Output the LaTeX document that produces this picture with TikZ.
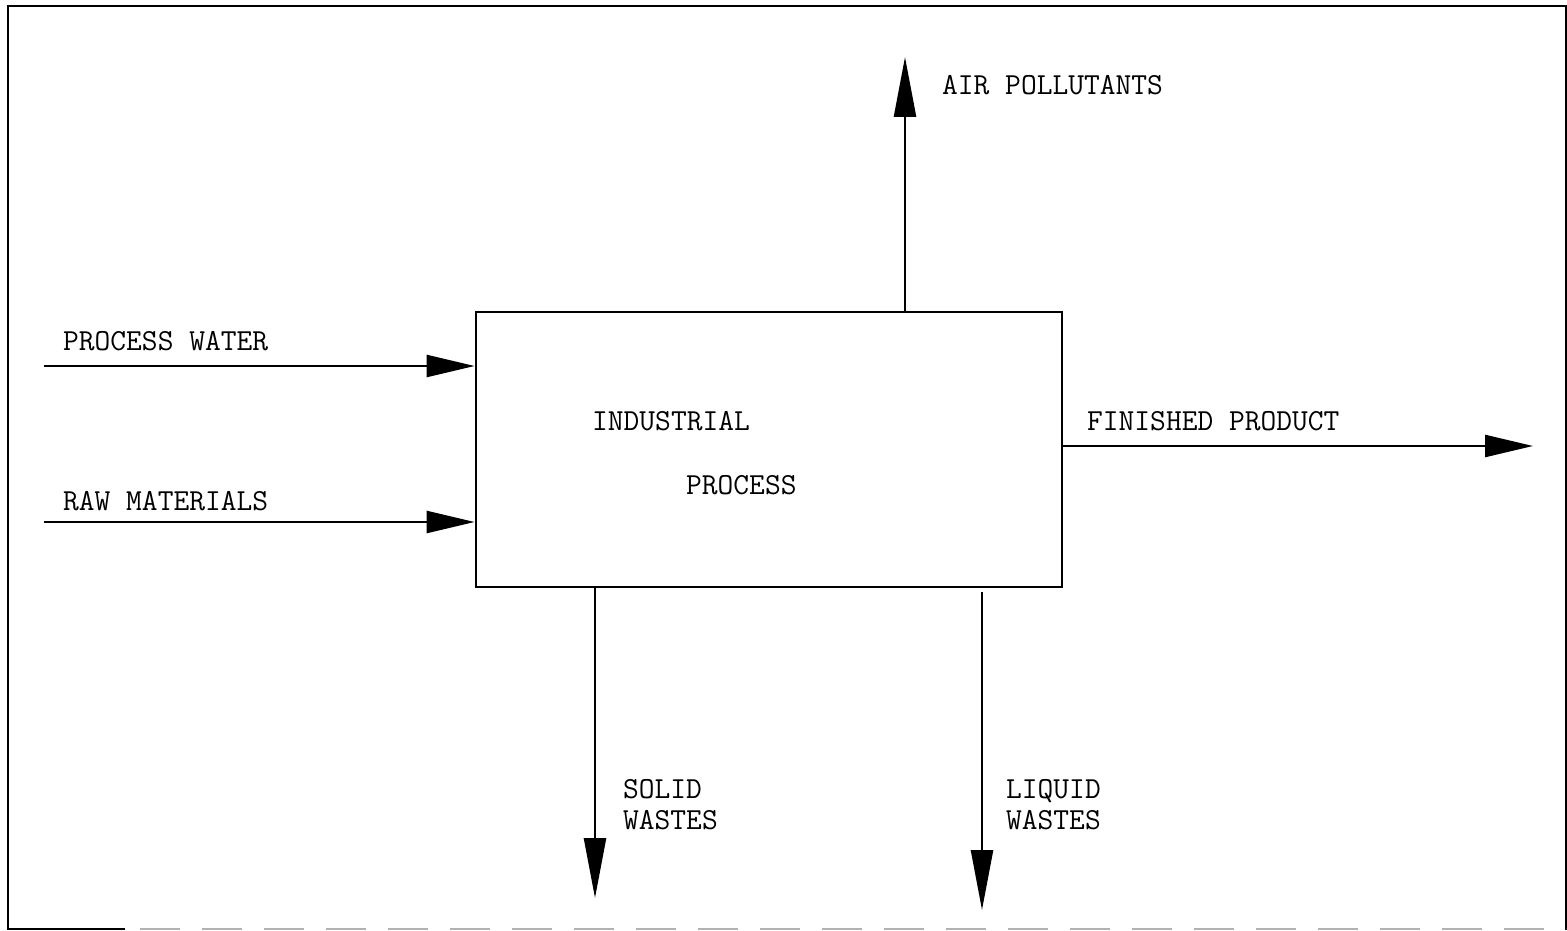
\documentclass[tikz,border=0pt]{standalone}
\usetikzlibrary{arrows.meta}
\begin{document}
\begin{tikzpicture}[x=1pt,y=-1pt,
  flow/.style={line width=2.5pt,-{Triangle[length=48pt,width=22pt]}},
  vflow/.style={line width=2.5pt,-{Triangle[length=60pt,width=22pt]}},
  lbl/.style={anchor=base west,inner sep=0pt,font=\fontsize{30.6}{36}\selectfont\ttfamily},
  procbox/.style={draw,line width=2.8pt,minimum width=586pt,minimum height=275pt,inner sep=0pt}]
\useasboundingbox (0,0) rectangle (1567,931);
% frame
\draw[line width=2.5pt] (8,930) -- (8,6) -- (1566,6) -- (1566,930);
\draw[line width=2.5pt] (8,929) -- (125,929);
\draw[line width=1.5pt,gray!60,dash pattern=on 40pt off 22pt] (140,929) -- (1566,929);
% process box
\node[procbox] (box) at (769,449.5) {};
% end coordinates
\coordinate (pwS) at (44,366);
\coordinate (rmS) at (44,522);
\coordinate (apE) at (905,57);
\coordinate (fpE) at (1533,446);
\coordinate (swE) at (595,898);
\coordinate (lwE) at (982,910);
\coordinate (lwS) at (982,592);
% connectors
\draw[flow] (pwS) -- (pwS -| box.west);
\draw[flow] (rmS) -- (rmS -| box.west);
\draw[vflow] (apE |- box.north) -- (apE);
\draw[flow] (box.east |- fpE) -- (fpE);
\draw[vflow] (swE |- box.south) -- (swE);
\draw[vflow] (lwS) -- (lwE);
% labels
\node[lbl] (tap) at (942,95) {AIR POLLUTANTS};
\node[lbl] (tpw) at (63,350) {PROCESS WATER};
\node[lbl] (trm) at (63,510) {RAW MATERIALS};
\node[lbl] (tind) at (592,430) {INDUSTRIAL};
\node[lbl] (tproc) at (686,494) {PROCESS};
\node[lbl] (tfp) at (1087,430) {FINISHED PRODUCT};
\node[lbl] (tsw1) at (623,798) {SOLID};
\node[lbl] (tsw2) at (623,829) {WASTES};
\node[lbl] (tlw1) at (1006,798) {LIQUID};
\node[lbl] (tlw2) at (1006,829) {WASTES};
\end{tikzpicture}
\end{document}
